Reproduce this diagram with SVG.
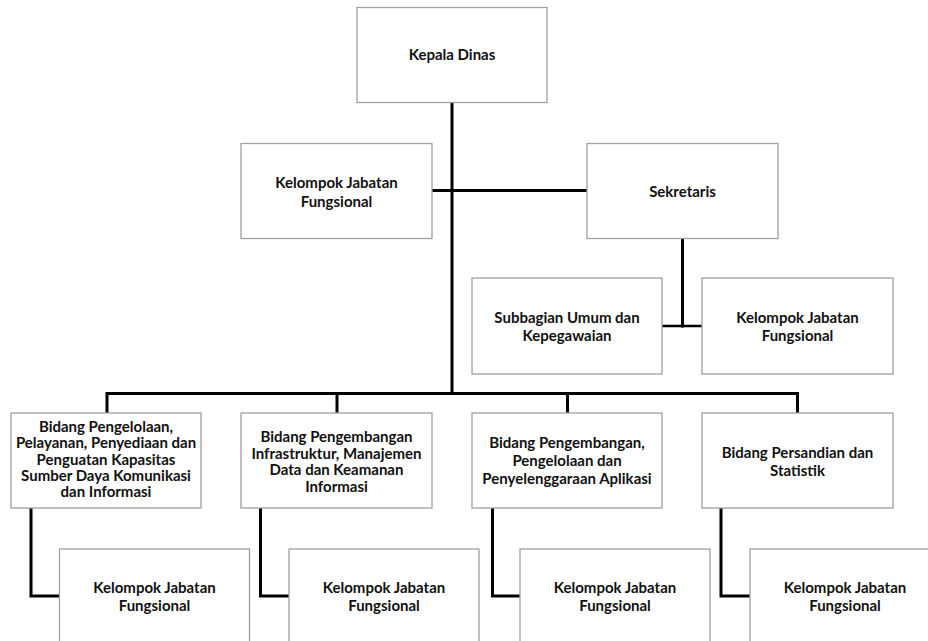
<svg xmlns="http://www.w3.org/2000/svg" width="928" height="641" viewBox="0 0 928 641">
<style>
.box{fill:#fff;stroke:#a0a0a0;stroke-width:1.3}
.t{font-family:Lato,"Liberation Sans",sans-serif;font-weight:bold;font-size:15px;fill:#111;text-anchor:middle}
.c{fill:none;stroke:#000;stroke-width:3;stroke-linecap:square}
</style>
<rect width="928" height="641" fill="#fff"/>
<g id="connectors">
<path class="c" d="M452 103V393"/>
<path class="c" d="M433 190.5H587"/>
<path class="c" d="M682.5 238V326"/>
<path class="c" d="M662 326H702" style="stroke-width:2.5"/>
<path class="c" d="M107 412V393.5H797.5V412"/>
<path class="c" d="M337 393.5V412"/>
<path class="c" d="M567.5 393.5V412"/>
<path class="c" d="M31 508V596H59"/>
<path class="c" d="M260.5 508V596H289"/>
<path class="c" d="M492.5 508V596H520"/>
<path class="c" d="M721 508V596H750"/>
</g>
<g id="kepala"><rect class="box" x="357" y="7.5" width="190" height="95"/><text class="t" x="452" y="60">Kepala Dinas</text></g>
<g id="kjf-top"><rect class="box" x="241" y="143.5" width="191" height="95"/><text class="t" x="336.5" y="188">Kelompok Jabatan</text><text class="t" x="336.5" y="206.5">Fungsional</text></g>
<g id="sekretaris"><rect class="box" x="587" y="143.5" width="191" height="95"/><text class="t" x="682.5" y="197">Sekretaris</text></g>
<g id="subbagian"><rect class="box" x="472" y="278" width="190" height="96"/><text class="t" x="567" y="322.5">Subbagian Umum dan</text><text class="t" x="567" y="340.5">Kepegawaian</text></g>
<g id="kjf-sek"><rect class="box" x="702" y="278" width="191" height="96"/><text class="t" x="797.5" y="322.5">Kelompok Jabatan</text><text class="t" x="797.5" y="340.5">Fungsional</text></g>
<g id="bidang1"><rect class="box" x="11" y="413" width="190" height="95"/>
<text class="t" x="106" y="432">Bidang Pengelolaan,</text>
<text class="t" x="106" y="448">Pelayanan, Penyediaan dan</text>
<text class="t" x="106" y="464.5">Penguatan Kapasitas</text>
<text class="t" x="106" y="480.5">Sumber Daya Komunikasi</text>
<text class="t" x="106" y="497">dan Informasi</text></g>
<g id="bidang2"><rect class="box" x="241" y="413" width="191" height="95"/>
<text class="t" x="336.5" y="442">Bidang Pengembangan</text>
<text class="t" x="336.5" y="458.5">Infrastruktur, Manajemen</text>
<text class="t" x="336.5" y="475">Data dan Keamanan</text>
<text class="t" x="336.5" y="491.5">Informasi</text></g>
<g id="bidang3"><rect class="box" x="472" y="413" width="190" height="95"/>
<text class="t" x="567" y="448">Bidang Pengembangan,</text>
<text class="t" x="567" y="466">Pengelolaan dan</text>
<text class="t" x="567" y="484">Penyelenggaraan Aplikasi</text></g>
<g id="bidang4"><rect class="box" x="702" y="413" width="191" height="95"/>
<text class="t" x="797.5" y="458">Bidang Persandian dan</text>
<text class="t" x="797.5" y="475.5">Statistik</text></g>
<g id="kjf1"><rect class="box" x="59.5" y="549" width="190" height="110"/><text class="t" x="154.5" y="592.5">Kelompok Jabatan</text><text class="t" x="154.5" y="610.5">Fungsional</text></g>
<g id="kjf2"><rect class="box" x="289" y="549" width="190" height="110"/><text class="t" x="384" y="592.5">Kelompok Jabatan</text><text class="t" x="384" y="610.5">Fungsional</text></g>
<g id="kjf3"><rect class="box" x="520" y="549" width="190" height="110"/><text class="t" x="615" y="592.5">Kelompok Jabatan</text><text class="t" x="615" y="610.5">Fungsional</text></g>
<g id="kjf4"><rect class="box" x="750" y="549" width="190" height="110"/><text class="t" x="845" y="592.5">Kelompok Jabatan</text><text class="t" x="845" y="610.5">Fungsional</text></g>
</svg>
